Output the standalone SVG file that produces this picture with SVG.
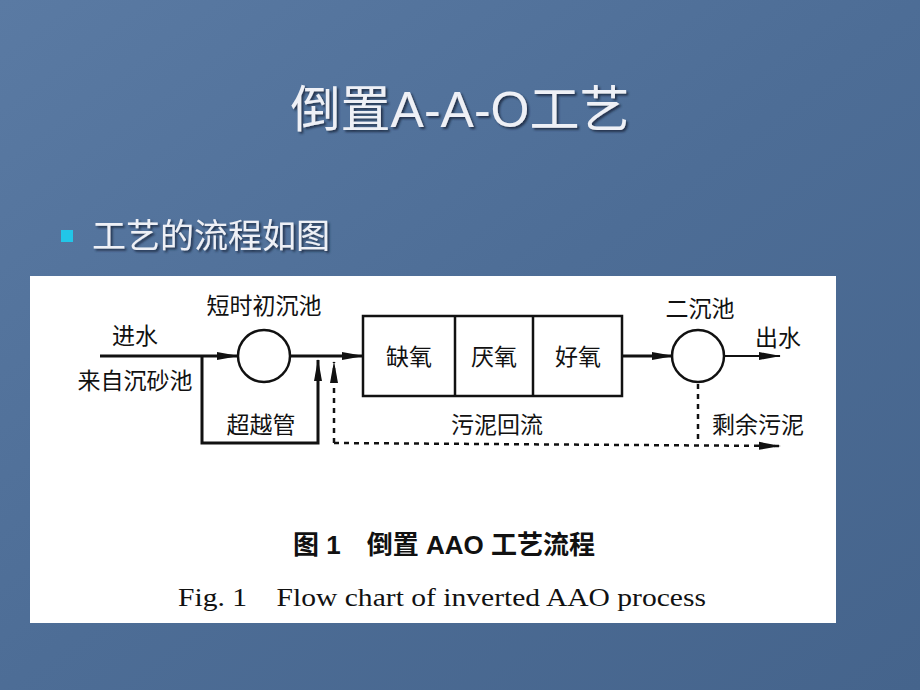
<svg xmlns="http://www.w3.org/2000/svg" width="920" height="690" viewBox="0 0 920 690">
<defs>
<linearGradient id="bg" x1="0" y1="0" x2="1" y2="1"><stop offset="0" stop-color="#5a7aa3"/><stop offset="0.5" stop-color="#4d6d96"/><stop offset="1" stop-color="#45648c"/></linearGradient>
<filter id="sh" x="-10%" y="-20%" width="120%" height="140%"><feDropShadow dx="2" dy="2" stdDeviation="1" flood-color="#1e2e46" flood-opacity="0.9"/></filter>
<marker id="ahl" markerWidth="22" markerHeight="10" refX="21" refY="5" orient="auto" markerUnits="userSpaceOnUse"><path d="M0,1 L22,5 L0,9 Z" fill="#111"/></marker>
<style>
.t{font-family:"Liberation Sans","Noto Sans CJK SC",sans-serif;fill:#111}
.l{stroke:#111;stroke-width:3;fill:none}
.d{stroke:#111;stroke-width:2.5;fill:none;stroke-dasharray:5 5}
</style>
</defs>
<rect width="920" height="690" fill="url(#bg)"/>
<text x="460" y="127" text-anchor="middle" font-size="50" font-family="'Liberation Sans','Noto Sans CJK SC',sans-serif" fill="#eef0f6" filter="url(#sh)">倒置A-A-O工艺</text>
<rect x="61" y="230" width="12" height="12" fill="#22c6e8"/>
<text x="92" y="248" font-size="34" font-family="'Liberation Sans','Noto Sans CJK SC',sans-serif" fill="#eef0f6" filter="url(#sh)">工艺的流程如图</text>
<rect x="30" y="276" width="806" height="347" fill="#fff"/>
<g id="connectors">
<line class="l" x1="100" y1="356" x2="238" y2="356" marker-end="url(#ahl)"/>
<line class="l" x1="290" y1="356" x2="363" y2="356" marker-end="url(#ahl)"/>
<polyline class="l" points="202,356 202,443 318,443 318,360" marker-end="url(#ahl)"/>
<line class="d" x1="334" y1="443" x2="334" y2="362" marker-end="url(#ahl)"/>
<line class="d" x1="334" y1="443" x2="780" y2="446" marker-end="url(#ahl)"/>
<line class="l" x1="622" y1="356" x2="673" y2="356" marker-end="url(#ahl)"/>
<line class="l" x1="724" y1="356" x2="780" y2="356" marker-end="url(#ahl)" style="stroke-width:2"/>
<line class="d" x1="698" y1="384" x2="698" y2="443"/>
</g>
<g id="n1"><circle cx="264" cy="356" r="26" class="l" style="stroke-width:2.5"/><text class="t" x="264" y="314" text-anchor="middle" font-size="23">短时初沉池</text></g>
<g id="in"><text class="t" x="135" y="344" text-anchor="middle" font-size="23">进水</text><text class="t" x="135" y="389" text-anchor="middle" font-size="23">来自沉砂池</text></g>
<g id="bypass"><text class="t" x="261" y="433" text-anchor="middle" font-size="23">超越管</text></g>
<g id="tank"><rect x="363" y="316" width="259" height="80" class="l" style="stroke-width:2.5"/>
<line class="l" x1="455" y1="316" x2="455" y2="396" style="stroke-width:2.5"/><line class="l" x1="533" y1="316" x2="533" y2="396" style="stroke-width:2.5"/>
<text class="t" x="409" y="365" text-anchor="middle" font-size="23">缺氧</text>
<text class="t" x="494" y="365" text-anchor="middle" font-size="23">厌氧</text>
<text class="t" x="578" y="365" text-anchor="middle" font-size="23">好氧</text></g>
<g id="ret"><text class="t" x="497" y="433" text-anchor="middle" font-size="23">污泥回流</text></g>
<g id="n2"><circle cx="698" cy="356" r="26" class="l" style="stroke-width:2.5"/><text class="t" x="700" y="317" text-anchor="middle" font-size="23">二沉池</text></g>
<g id="out"><text class="t" x="778" y="346" text-anchor="middle" font-size="23">出水</text></g>
<g id="waste"><text class="t" x="758" y="433" text-anchor="middle" font-size="23">剩余污泥</text></g>
<g id="cap">
<text class="t" x="444" y="554" text-anchor="middle" font-size="26" font-weight="bold">图 1　倒置 AAO 工艺流程</text>
<text x="442" y="606" text-anchor="middle" font-size="26" font-family="'Liberation Serif',serif" fill="#111" textLength="528" lengthAdjust="spacingAndGlyphs">Fig. 1　Flow chart of inverted AAO process</text>
</g>
</svg>
